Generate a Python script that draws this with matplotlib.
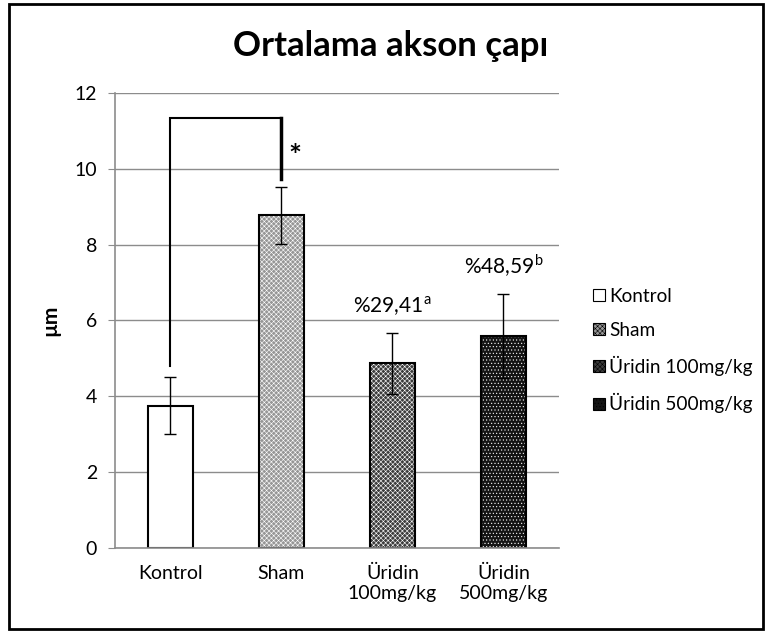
import matplotlib
matplotlib.use('Agg')
import matplotlib.pyplot as plt
from matplotlib.patches import Patch, Rectangle

plt.rcParams['font.family'] = ['Lato', 'DejaVu Sans']
plt.rcParams['hatch.linewidth'] = 0.4

groups = ['Kontrol', 'Sham', 'Üridin 100mg/kg', 'Üridin 500mg/kg']
tick_labels = ['Kontrol', 'Sham', 'Üridin\n100mg/kg', 'Üridin\n500mg/kg']
means = [3.75, 8.77, 4.87, 5.59]
errors = [0.75, 0.76, 0.80, 1.11]
notes = ['', '', '%29,41$^{\\mathregular{a}}$', '%48,59$^{\\mathregular{b}}$']
faces = ['white', '#969696', '#3c3c3c', '#141414']
hatches = [None, 'xxxxxxx', 'xxxxxxx', '.....']


def main():
    fig = plt.figure(figsize=(7.68, 6.32), dpi=100)
    ax = fig.add_axes([0.1497, 0.1329, 0.578, 0.72])
    x = list(range(len(groups)))

    ax.set_axisbelow(True)
    ax.yaxis.grid(True, color='#8c8c8c', lw=1)
    # fill + hatch first, then black outline on top
    for xi, m, fc, h in zip(x, means, faces, hatches):
        ax.bar(xi, m, width=0.4, color=fc, hatch=h, edgecolor='white', lw=0)
    ax.bar(x, means, width=0.4, fill=False, edgecolor='black', lw=1.5)
    ax.errorbar(x, means, yerr=errors, fmt='none', ecolor='black',
                elinewidth=1, capsize=4, capthick=1)

    for xi, m, e, n in zip(x, means, errors, notes):
        if n:
            ax.text(xi, m + e + 0.4, n, ha='center', va='bottom', fontsize=15)

    # significance bracket Kontrol vs Sham
    top = 11.35
    ax.plot([x[0], x[0], x[1]], [means[0] + errors[0] + 0.3, top, top],
            color='black', lw=1.5, solid_joinstyle='miter')
    ax.plot([x[1], x[1]], [top, means[1] + errors[1] + 0.2],
            color='black', lw=2.5)
    ax.text(x[1] + 0.12, 10.3, '*', fontsize=22, fontweight='bold',
            ha='center', va='center')

    ax.set_xlim(-0.5, 3.5)
    ax.set_ylim(0, 12)
    ax.set_yticks(range(0, 13, 2))
    ax.set_xticks(x)
    ax.set_xticklabels(tick_labels, fontsize=14)
    ax.tick_params(axis='y', labelsize=14, length=5, color='#8c8c8c', pad=8)
    ax.tick_params(axis='x', length=0, pad=12)
    for s in ['top', 'right']:
        ax.spines[s].set_visible(False)
    ax.spines['left'].set_color('#8c8c8c')
    ax.spines['bottom'].set_color('#8c8c8c')
    ax.spines['left'].set_linewidth(1.2)
    ax.spines['bottom'].set_linewidth(1.2)

    ax.set_ylabel('µm', fontsize=15, fontweight='bold', labelpad=10)
    fig.text(0.508, 0.928, 'Ortalama akson çapı', ha='center', va='center',
             fontsize=25, fontweight='bold')

    handles = [Patch(facecolor=fc, hatch=h, edgecolor='black', lw=0.8)
               for fc, h in zip(faces, hatches)]
    fig.legend(handles, groups, loc='upper left', bbox_to_anchor=(0.75, 0.572),
               frameon=False, fontsize=13.7, handlelength=0.6, handleheight=0.6,
               handletextpad=0.25, labelspacing=0.9)

    fig.patches.append(Rectangle((0.012, 0.004), 0.982, 0.99, transform=fig.transFigure,
                                 fill=False, edgecolor='black', lw=2))
    fig.savefig('out.png', dpi=100)


if __name__ == '__main__':
    main()
